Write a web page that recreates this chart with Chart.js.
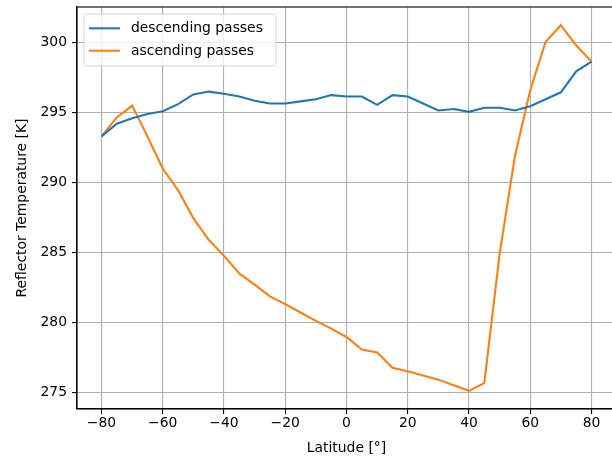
<!DOCTYPE html>
<html>
<head>
<meta charset="utf-8">
<script src="https://cdn.jsdelivr.net/npm/chart.js@4/dist/chart.umd.min.js"></script>
<style>
  html, body { margin: 0; padding: 0; background: #fff; overflow: hidden; }
  #wrap { width: 616px; height: 458px; }
</style>
</head>
<body>
<div id="wrap"><canvas id="c" width="616" height="458"></canvas></div>
<script>
// ---- data ----
const latitudes = [-80,-75,-70,-65,-60,-55,-50,-45,-40,-35,-30,-25,-20,-15,-10,-5,0,5,10,15,20,25,30,35,40,45,50,55,60,65,70,75,80];
const descending = [293.3,294.2,294.6,294.9,295.1,295.6,296.3,296.5,296.35,296.15,295.85,295.65,295.65,295.8,295.95,296.25,296.15,296.15,295.55,296.25,296.15,295.65,295.15,295.25,295.05,295.35,295.35,295.15,295.45,295.95,296.45,297.95,298.65];
const ascending = [293.3,294.65,295.5,293.3,291.0,289.45,287.45,285.9,284.75,283.5,282.7,281.85,281.3,280.7,280.1,279.55,278.95,278.05,277.85,276.75,276.5,276.2,275.9,275.5,275.1,275.65,284.9,291.9,296.6,300.05,301.25,299.8,298.65];
const seriesNames = ['descending passes', 'ascending passes'];
const xTicks = [-80,-60,-40,-20,0,20,40,60,80];
const xTickLabels = ['\u221280','\u221260','\u221240','\u221220','0','20','40','60','80'];
const yTicks = [275,280,285,290,295,300];
const yTickLabels = ['275','280','285','290','295','300'];
const xRange = [-88, 88];
const yRange = [273.8, 302.55];
const xTitle = 'Latitude [\u00b0]';
const yTitle = 'Reflector Temperature [K]';

// ---- styles ----
const colors = ['#1f77b4', '#ff7f0e'];
const FONT = 'DejaVu Sans';
const FS = 13.9;

const framePlugin = {
  id: 'frame',
  afterDraw(chart) {
    const {ctx, chartArea: a} = chart;
    ctx.save();
    ctx.strokeStyle = '#000';
    ctx.lineWidth = 1.1;
    ctx.strokeRect(a.left, a.top, a.right - a.left, a.bottom - a.top);
    // legend
    const bx = a.left + 7, by = a.top + 7, bw = 192, bh = 52, r = 3;
    ctx.beginPath();
    ctx.moveTo(bx + r, by);
    ctx.lineTo(bx + bw - r, by);
    ctx.quadraticCurveTo(bx + bw, by, bx + bw, by + r);
    ctx.lineTo(bx + bw, by + bh - r);
    ctx.quadraticCurveTo(bx + bw, by + bh, bx + bw - r, by + bh);
    ctx.lineTo(bx + r, by + bh);
    ctx.quadraticCurveTo(bx, by + bh, bx, by + bh - r);
    ctx.lineTo(bx, by + r);
    ctx.quadraticCurveTo(bx, by, bx + r, by);
    ctx.closePath();
    ctx.fillStyle = 'rgba(255,255,255,0.8)';
    ctx.fill();
    ctx.strokeStyle = 'rgba(204,204,204,0.8)';
    ctx.lineWidth = 1;
    ctx.stroke();
    ctx.font = FS + 'px "' + FONT + '"';
    ctx.textBaseline = 'middle';
    ctx.textAlign = 'left';
    chart.data.datasets.forEach((ds, i) => {
      const y = by + 14.3 + i * 22.4;
      ctx.strokeStyle = ds.borderColor;
      ctx.lineWidth = 2.08;
      ctx.beginPath();
      ctx.moveTo(bx + 5, y);
      ctx.lineTo(bx + 36, y);
      ctx.stroke();
      ctx.fillStyle = '#000';
      ctx.fillText(ds.label, bx + 47, y + 0.5);
    });
    ctx.restore();
  }
};

new Chart(document.getElementById('c'), {
  type: 'line',
  data: {
    datasets: [
      { label: seriesNames[0], data: latitudes.map((x, i) => ({x, y: descending[i]})),
        borderColor: colors[0], backgroundColor: colors[0], borderWidth: 2.08, pointRadius: 0, tension: 0, fill: false },
      { label: seriesNames[1], data: latitudes.map((x, i) => ({x, y: ascending[i]})),
        borderColor: colors[1], backgroundColor: colors[1], borderWidth: 2.08, pointRadius: 0, tension: 0, fill: false }
    ]
  },
  options: {
    responsive: false,
    animation: false,
    devicePixelRatio: 1,
    layout: { padding: { top: 7, right: 0, bottom: 0, left: 0 } },
    plugins: { legend: { display: false }, tooltip: { enabled: false } },
    scales: {
      x: {
        type: 'linear',
        min: xRange[0], max: xRange[1],
        afterBuildTicks: s => { s.ticks = xTicks.map(v => ({value: v})); },
        afterFit: s => { s.height = 49; s.paddingLeft = 0; s.paddingRight = 0; },
        ticks: {
          autoSkip: false, maxRotation: 0, padding: 1,
          color: '#000', font: { family: FONT, size: FS },
          callback: (v) => { const k = xTicks.indexOf(v); return k >= 0 ? xTickLabels[k] : ''; }
        },
        grid: { color: '#b0b0b0', lineWidth: 1.1, tickLength: 5, tickColor: '#000', drawTicks: true },
        border: { display: true, color: '#000', width: 1.1 },
        title: { display: true, text: xTitle, color: '#000', font: { family: FONT, size: FS }, padding: { top: 0, bottom: 1.6 } }
      },
      y: {
        type: 'linear',
        min: yRange[0], max: yRange[1],
        afterBuildTicks: s => { s.ticks = yTicks.map(v => ({value: v})); },
        afterFit: s => { s.width = 77; s.paddingTop = 0; s.paddingBottom = 0; },
        ticks: {
          autoSkip: false, padding: 5,
          color: '#000', font: { family: FONT, size: FS },
          callback: (v) => { const k = yTicks.indexOf(v); return k >= 0 ? yTickLabels[k] : ''; }
        },
        grid: { color: '#b0b0b0', lineWidth: 1.1, tickLength: 5, tickColor: '#000', drawTicks: true },
        border: { display: true, color: '#000', width: 1.1 },
        title: { display: true, text: yTitle, color: '#000', font: { family: FONT, size: FS }, padding: { top: 13.6, bottom: 0 } }
      }
    }
  },
  plugins: [framePlugin]
});
</script>
</body>
</html>
